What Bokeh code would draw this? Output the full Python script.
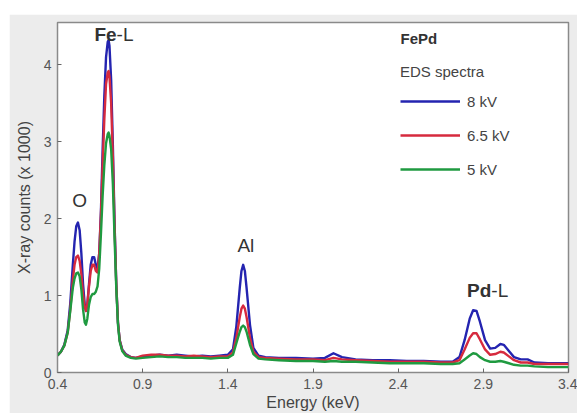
from bokeh.plotting import figure
from bokeh.models import Range1d, Label, Legend, LegendItem, FixedTicker, ColumnDataSource
from bokeh.embed import file_html
from bokeh.resources import INLINE

# ---- data ----
energy = [0.40, 0.42, 0.44, 0.46, 0.475, 0.49, 0.50, 0.51, 0.52, 0.53, 0.54, 0.55, 0.56, 0.567,
          0.575, 0.585, 0.595, 0.605, 0.615, 0.625, 0.635, 0.645, 0.655, 0.665, 0.675, 0.685,
          0.695, 0.70, 0.705, 0.715, 0.725, 0.735, 0.745, 0.755, 0.765, 0.78, 0.80, 0.83, 0.86,
          0.90, 0.95, 1.00, 1.05, 1.10, 1.15, 1.20, 1.25, 1.30, 1.35, 1.40, 1.43, 1.45, 1.47,
          1.48, 1.49, 1.50, 1.51, 1.53, 1.55, 1.58, 1.62, 1.70, 1.80, 1.90, 1.97, 2.02, 2.07,
          2.15, 2.25, 2.35, 2.45, 2.55, 2.65, 2.72, 2.76, 2.79, 2.82, 2.84, 2.86, 2.88, 2.91,
          2.94, 2.97, 3.00, 3.02, 3.05, 3.08, 3.12, 3.16, 3.20, 3.28, 3.40]
kv8 = [0.22, 0.27, 0.36, 0.55, 0.90, 1.40, 1.70, 1.90, 1.95, 1.85, 1.55, 1.15, 0.88, 0.80,
       0.88, 1.15, 1.40, 1.50, 1.50, 1.40, 1.35, 1.55, 2.10, 2.90, 3.60, 4.10, 4.30, 4.32,
       4.25, 3.80, 2.95, 1.95, 1.15, 0.65, 0.42, 0.30, 0.24, 0.20, 0.19, 0.21, 0.22, 0.23,
       0.22, 0.23, 0.22, 0.21, 0.22, 0.21, 0.22, 0.23, 0.30, 0.60, 1.10, 1.32, 1.40, 1.32,
       1.10, 0.62, 0.32, 0.22, 0.20, 0.19, 0.19, 0.18, 0.19, 0.25, 0.20, 0.17, 0.16, 0.16,
       0.15, 0.15, 0.14, 0.14, 0.20, 0.42, 0.70, 0.81, 0.80, 0.66, 0.42, 0.31, 0.32, 0.37,
       0.36, 0.28, 0.20, 0.17, 0.17, 0.13, 0.12, 0.12]
kv65 = [0.22, 0.27, 0.35, 0.52, 0.82, 1.20, 1.40, 1.50, 1.52, 1.45, 1.28, 1.02, 0.85, 0.80,
        0.88, 1.12, 1.32, 1.40, 1.40, 1.32, 1.30, 1.55, 2.05, 2.70, 3.30, 3.75, 3.90, 3.92,
        3.85, 3.50, 2.80, 1.90, 1.15, 0.65, 0.42, 0.29, 0.23, 0.20, 0.19, 0.22, 0.23, 0.23,
        0.22, 0.22, 0.21, 0.22, 0.21, 0.20, 0.21, 0.21, 0.26, 0.45, 0.72, 0.83, 0.87, 0.83,
        0.72, 0.45, 0.27, 0.20, 0.19, 0.18, 0.17, 0.17, 0.16, 0.19, 0.17, 0.16, 0.15, 0.14,
        0.14, 0.14, 0.13, 0.13, 0.16, 0.30, 0.45, 0.51, 0.51, 0.43, 0.30, 0.23, 0.24, 0.27,
        0.26, 0.21, 0.16, 0.13, 0.13, 0.11, 0.11, 0.11]
kv5 = [0.22, 0.27, 0.35, 0.52, 0.80, 1.10, 1.22, 1.29, 1.30, 1.25, 1.08, 0.82, 0.65, 0.62,
       0.70, 0.88, 0.98, 1.02, 1.02, 1.05, 1.12, 1.35, 1.80, 2.30, 2.70, 2.98, 3.10, 3.12,
       3.08, 2.90, 2.45, 1.75, 1.10, 0.62, 0.40, 0.28, 0.22, 0.19, 0.18, 0.19, 0.20, 0.21,
       0.20, 0.20, 0.19, 0.19, 0.19, 0.18, 0.19, 0.19, 0.23, 0.38, 0.53, 0.59, 0.61, 0.59,
       0.53, 0.36, 0.24, 0.18, 0.17, 0.16, 0.15, 0.15, 0.14, 0.15, 0.14, 0.14, 0.13, 0.12,
       0.12, 0.12, 0.11, 0.11, 0.12, 0.17, 0.22, 0.25, 0.24, 0.20, 0.16, 0.14, 0.14, 0.15,
       0.14, 0.12, 0.10, 0.09, 0.09, 0.08, 0.07, 0.07]
series_names = ["8 kV", "6.5 kV", "5 kV"]
series_colors = ["#2424b0", "#d62a3e", "#1f9a40"]
x_ticks = [0.4, 0.9, 1.4, 1.9, 2.4, 2.9, 3.4]
y_ticks = [0, 1, 2, 3, 4]

FONT = "Liberation Sans"

p = figure(width=568, height=399, output_backend="svg", toolbar_location=None,
           x_range=Range1d(0.4, 3.4), y_range=Range1d(0, 4.55),
           min_border_left=48, min_border_right=9, min_border_top=8, min_border_bottom=41)
p.margin = (14, 0, 0, 9)
p.border_fill_color = "#ececec"
p.background_fill_color = "white"
p.outline_line_color = "#8a8a8a"
p.outline_line_width = 1.5
p.xgrid.visible = False
p.ygrid.visible = False

src = ColumnDataSource(dict(e=energy, a=kv8, b=kv65, c=kv5))
renderers = []
for col, name, color in zip(["a", "b", "c"], series_names, series_colors):
    r = p.line("e", col, source=src, line_color=color, line_width=2.4, line_join="round")
    renderers.append((name, r))

for ax in (p.xaxis[0], p.yaxis[0]):
    ax.axis_line_color = "#8a8a8a"
    ax.major_tick_line_color = "#666666"
    ax.major_tick_in = 4
    ax.major_tick_out = 0
    ax.minor_tick_line_color = None
    ax.major_label_text_font = FONT
    ax.major_label_text_font_size = "14px"
    ax.major_label_text_color = "#555555"
    ax.axis_label_text_font = FONT
    ax.axis_label_text_font_size = "16px"
    ax.axis_label_text_font_style = "normal"
    ax.axis_label_text_color = "#444444"

p.xaxis.ticker = FixedTicker(ticks=x_ticks)
p.yaxis.ticker = FixedTicker(ticks=y_ticks)
p.xaxis.major_label_overrides = {t: ("%g" % t) for t in x_ticks}
p.xaxis.axis_label = "Energy (keV)"
p.yaxis.axis_label = "X-ray counts (x 1000)"
p.xaxis.major_label_standoff = 6
p.xaxis.axis_label_standoff = 2
p.yaxis.major_label_standoff = 6
p.yaxis.axis_label_standoff = 8

# peak labels
def lab(x, y, text, bold=False, align="center", size="19px"):
    p.add_layout(Label(x=x, y=y, text=text, text_font=FONT, text_font_size=size,
                       text_font_style="bold" if bold else "normal", text_color="#333333",
                       text_align=align, text_baseline="middle"))

lab(0.747, 4.40, "Fe", bold=True, align="right")
lab(0.747, 4.40, "-L", align="left")
lab(0.53, 2.23, "O")
lab(1.506, 1.65, "Al")
lab(2.947, 1.065, "Pd", bold=True, align="right")
lab(2.947, 1.065, "-L", align="left")

# legend
p.add_layout(Label(x=343, y=334, x_units="screen", y_units="screen", text="FePd",
                   text_font=FONT, text_font_size="15px", text_font_style="bold",
                   text_color="#333333", text_baseline="middle"))
legend = Legend(items=[LegendItem(label=n, renderers=[r]) for n, r in renderers],
                location=(343, 193), title="EDS spectra",
                title_text_font=FONT, title_text_font_size="15px", title_text_font_style="normal",
                title_text_color="#444444", title_standoff=11,
                label_text_font=FONT, label_text_font_size="15px", label_text_color="#444444",
                label_standoff=7, glyph_width=60, glyph_height=20, label_height=20,
                spacing=14, padding=0, margin=0,
                border_line_color=None, background_fill_alpha=0)
p.add_layout(legend, "center")

open("out.html", "w").write(file_html(p, INLINE))
